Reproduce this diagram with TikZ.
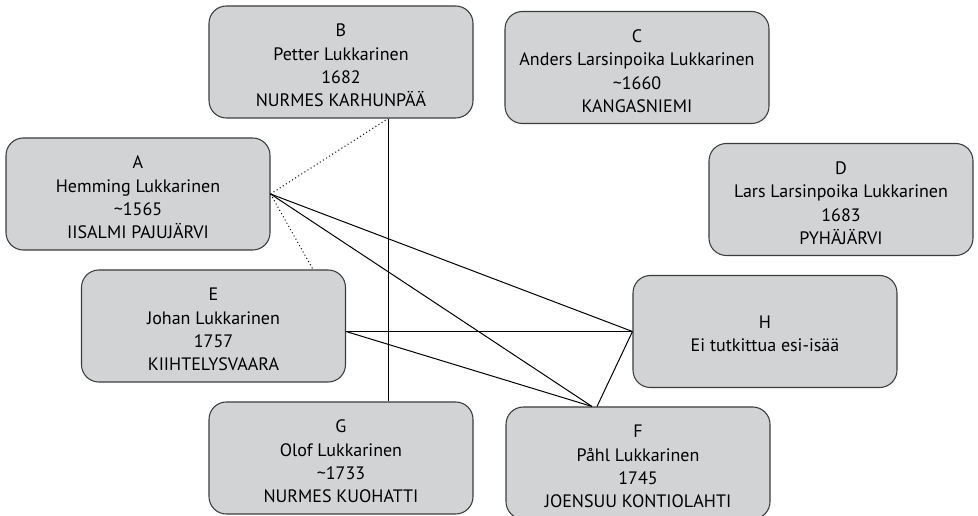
\documentclass[tikz,border=0pt]{standalone}
\usepackage{fontspec}
\setmainfont{PT Sans}
\usetikzlibrary{calc}
\definecolor{boxfill}{RGB}{209,211,212}
\definecolor{boxline}{RGB}{60,60,60}
\newcommand{\toppad}[1]{\rule{0pt}{#1}}
\tikzset{
  person/.style={draw=boxline, line width=0.8pt, fill=boxfill, rounded corners=13pt,
    minimum width=198pt, minimum height=84pt, inner sep=0pt, align=center,
    font=\fontsize{13.5}{17.5}\selectfont},
  link/.style={draw=black, line width=0.75pt},
  dotlink/.style={draw=black, line width=0.75pt, dotted}
}
\begin{document}
\begin{tikzpicture}[x=0.75pt,y=-0.75pt]
\useasboundingbox (0,0) rectangle (978,516);
\node[person] (A) at (138,194) {\toppad{15pt}A\\Hemming Lukkarinen\\\textasciitilde1565\\IISALMI PAJUJÄRVI};
\node[person] (B) at (341,62) {\toppad{15pt}B\\Petter Lukkarinen\\1682\\NURMES KARHUNPÄÄ};
\node[person] (C) at (637,67.5) {\toppad{15pt}C\\Anders Larsinpoika Lukkarinen\\\textasciitilde1660\\KANGASNIEMI};
\node[person] (D) at (841,199.5) {\toppad{15pt}D\\Lars Larsinpoika Lukkarinen\\1683\\PYHÄJÄRVI};
\node[person] (E) at (213.5,326) {\toppad{15pt}E\\Johan Lukkarinen\\1757\\KIIHTELYSVAARA};
\node[person] (F) at (638,463) {\toppad{15pt}F\\Påhl Lukkarinen\\1745\\JOENSUU KONTIOLAHTI};
\node[person] (G) at (341,458) {\toppad{15pt}G\\Olof Lukkarinen\\\textasciitilde1733\\NURMES KUOHATTI};
\node[person] (H) at (765,331.5) {\toppad{13pt}H\\Ei tutkittua esi-isää};
\coordinate (Bb) at ($(B.south)+(47,0)$);
\coordinate (Et) at ($(E.north)+(99.5,0)$);
\coordinate (Ee) at (E.east |- H.west);
\coordinate (Fa) at ($(F.north)+(-46,0)$);
\coordinate (Fb) at ($(F.north)+(-41,0)$);
\draw[dotlink] (A.east) -- (Bb);
\draw[dotlink] (A.east) -- (Et);
\draw[link] (Bb) -- (Bb |- G.north);
\draw[link] (A.east) -- (H.west);
\draw[link] (A.east) -- (Fa);
\draw[link] (Ee) -- (H.west);
\draw[link] (Ee) -- (Fa);
\draw[link] (H.west) -- (Fb);
\end{tikzpicture}
\end{document}
